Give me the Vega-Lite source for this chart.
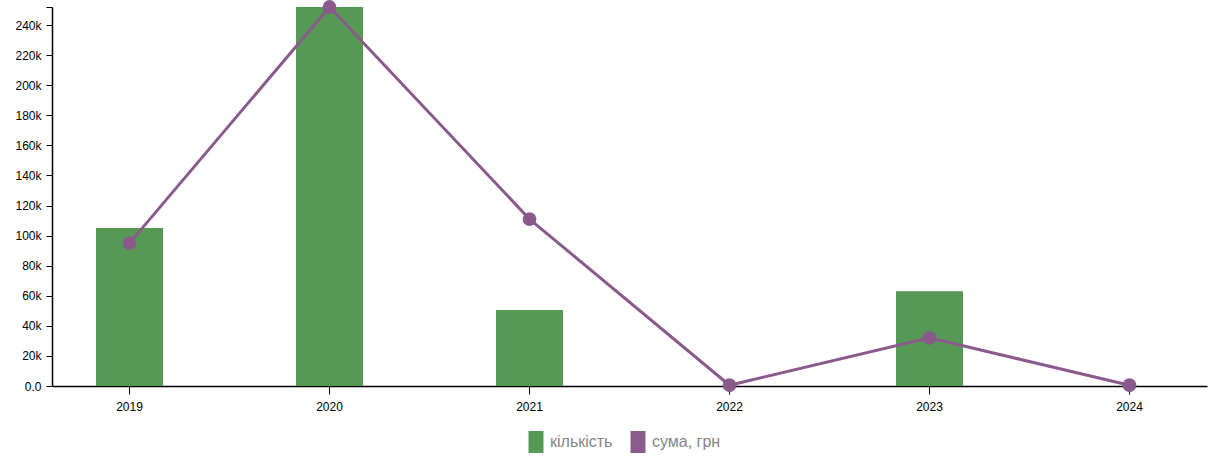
{
  "$schema": "https://vega.github.io/schema/vega-lite/v6.json",
  "width": 1155,
  "height": 379,
  "autosize": {"type": "none"},
  "padding": {"left": 52, "top": 7, "right": 5, "bottom": 71},
  "background": "white",
  "config": {
    "view": {"stroke": null},
    "font": "Liberation Sans",
    "axisY": {"labelOverlap": false}
  },
  "data": {
    "values": [
      {"year": "2019", "count": 105000, "sum": 95000},
      {"year": "2020", "count": 252000, "sum": 252000},
      {"year": "2021", "count": 50500, "sum": 111000},
      {"year": "2022", "count": 0, "sum": 500},
      {"year": "2023", "count": 63000, "sum": 32000},
      {"year": "2024", "count": 0, "sum": 500}
    ]
  },
  "encoding": {
    "x": {
      "field": "year",
      "type": "ordinal",
      "scale": {"paddingInner": 0.665, "paddingOuter": 0.22},
      "axis": {
        "title": null,
        "labelAngle": 0,
        "labelFontSize": 12,
        "labelColor": "#000",
        "domainColor": "#000",
        "tickColor": "#000",
        "tickSize": 8,
        "labelPadding": 7,
        "domainWidth": 1.5
      }
    }
  },
  "layer": [
    {
      "mark": {"type": "bar"},
      "encoding": {
        "y": {
          "field": "count",
          "type": "quantitative",
          "scale": {"domain": [0, 252000], "nice": false},
          "axis": {
            "title": null,
            "values": [0, 20000, 40000, 60000, 80000, 100000, 120000, 140000, 160000, 180000, 200000, 220000, 240000, 252000],
            "labelExpr": "datum.value == 252000 ? '' : format(datum.value, '.2s')",
            "labelOverlap": false,
            "grid": false,
            "labelFontSize": 12,
            "labelColor": "#000",
            "domainColor": "#000",
            "tickColor": "#000",
            "tickSize": 6,
            "labelPadding": 5,
            "domainWidth": 1.5
          }
        },
        "color": {
          "datum": "кількість",
          "type": "nominal",
          "scale": {"domain": ["кількість", "сума, грн"], "range": ["#559955", "#8a5a8c"]},
          "legend": {
            "title": null,
            "orient": "none",
            "legendX": 473,
            "legendY": 424,
            "direction": "horizontal",
            "symbolType": "M-0.68,-1H0.68V1H-0.68Z",
            "symbolSize": 484,
            "symbolStrokeWidth": 0,
            "labelFontSize": 16,
            "labelColor": "#858585",
            "labelOffset": 3,
            "columnPadding": 14,
            "encode": {
              "symbols": {"update": {"fill": {"scale": "color", "field": "value"}, "stroke": {"value": "transparent"}}}
            }
          }
        }
      }
    },
    {
      "mark": {"type": "line", "strokeWidth": 3, "point": {"filled": true, "size": 190}},
      "encoding": {
        "y": {
          "field": "sum",
          "type": "quantitative",
          "axis": {
            "title": null,
            "values": [0, 20000, 40000, 60000, 80000, 100000, 120000, 140000, 160000, 180000, 200000, 220000, 240000, 252000],
            "labelExpr": "datum.value == 252000 ? '' : format(datum.value, '.2s')",
            "labelOverlap": false,
            "grid": false,
            "labelFontSize": 12,
            "labelColor": "#000",
            "domainColor": "#000",
            "tickColor": "#000",
            "tickSize": 6,
            "labelPadding": 5,
            "domainWidth": 1.5
          }
        },
        "color": {"datum": "сума, грн", "type": "nominal"}
      }
    }
  ]
}
